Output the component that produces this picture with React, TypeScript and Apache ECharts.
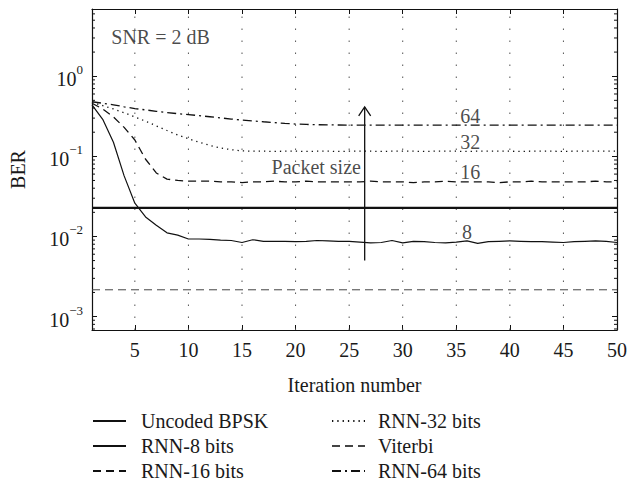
import React, { useEffect, useRef } from "react";
import * as echarts from "echarts";

const iterations = Array.from({ length: 50 }, (_, i) => i + 1);

const rnn8 = [
  0.44, 0.29, 0.15, 0.057, 0.026, 0.0175, 0.0138, 0.0111, 0.0104, 0.0093,
  0.0093, 0.0092, 0.009, 0.0089, 0.0084, 0.0091, 0.0087, 0.0087, 0.0087, 0.0086,
  0.0087, 0.0089, 0.0088, 0.0087, 0.0087, 0.0085, 0.0083, 0.0084, 0.0089, 0.0083,
  0.0087, 0.0086, 0.0084, 0.0083, 0.0085, 0.0088, 0.0082, 0.0086, 0.0087, 0.0088,
  0.0087, 0.0086, 0.0086, 0.0085, 0.0084, 0.0086, 0.0087, 0.0088, 0.0087, 0.0084,
];
const rnn16 = [
  0.46, 0.39, 0.31, 0.23, 0.16, 0.092, 0.062, 0.052, 0.05, 0.049,
  0.049, 0.049, 0.048, 0.048, 0.047, 0.048, 0.048, 0.049, 0.048, 0.048,
  0.049, 0.048, 0.048, 0.048, 0.048, 0.048, 0.049, 0.048, 0.048, 0.048,
  0.047, 0.048, 0.048, 0.049, 0.048, 0.048, 0.048, 0.048, 0.047, 0.048,
  0.048, 0.049, 0.048, 0.048, 0.048, 0.048, 0.048, 0.049, 0.048, 0.048,
];
const rnn32 = [
  0.47, 0.43, 0.39, 0.35, 0.31, 0.275, 0.24, 0.21, 0.185, 0.166,
  0.15, 0.137, 0.127, 0.121, 0.117, 0.116, 0.116, 0.115, 0.116, 0.116,
  0.115, 0.116, 0.116, 0.115, 0.116, 0.116, 0.116, 0.115, 0.116, 0.116,
  0.116, 0.115, 0.116, 0.116, 0.116, 0.115, 0.116, 0.116, 0.116, 0.116,
  0.115, 0.116, 0.116, 0.116, 0.115, 0.116, 0.116, 0.116, 0.116, 0.116,
];
const rnn64 = [
  0.48, 0.46, 0.44, 0.415, 0.395, 0.38, 0.365, 0.352, 0.341, 0.332,
  0.322, 0.312, 0.302, 0.292, 0.284, 0.277, 0.27, 0.264, 0.258, 0.253,
  0.25, 0.248, 0.247, 0.246, 0.245, 0.245, 0.245, 0.245, 0.245, 0.245,
  0.245, 0.245, 0.245, 0.245, 0.245, 0.245, 0.245, 0.245, 0.245, 0.245,
  0.245, 0.245, 0.245, 0.245, 0.245, 0.245, 0.245, 0.245, 0.245, 0.245,
];
const uncodedBer = 0.0228;
const viterbiBer = 0.00216;

const xTickValues = [5, 10, 15, 20, 25, 30, 35, 40, 45, 50];
const xGridValues = [5, 10, 15, 20, 25, 30, 35, 40, 45];

const annotationTexts = ["SNR = 2 dB", "Packet size", "64", "32", "16", "8"];
const annotationX = [2.8, 26.1, 36.3, 36.3, 36.3, 36.0];
const annotationY = [3.07, 0.0735, 0.316, 0.151, 0.0637, 0.0113];
const annotationAlign = ["left", "right", "center", "center", "center", "center"];

const arrowX = 26.45;
const arrowFrom = 0.005;
const arrowTo = 0.413;

const minorTickValues = [
  0.0007, 0.0008, 0.0009,
  0.002, 0.003, 0.004, 0.005, 0.006, 0.007, 0.008, 0.009,
  0.02, 0.03, 0.04, 0.05, 0.06, 0.07, 0.08, 0.09,
  0.2, 0.3, 0.4, 0.5, 0.6, 0.7, 0.8, 0.9,
  2, 3, 4, 5, 6,
];

const X_MIN = 1;
const X_MAX = 50;
const Y_MIN = 6.8e-4;
const Y_MAX = 6.9;

const FONT = "'Liberation Serif', 'Times New Roman', serif";
const TEXT = "#1a1a1a";
const INK = "#111";

function pairs(values: number[]) {
  return iterations.map((it, i) => [it, values[i]]);
}

export default function App() {
  const ref = useRef<HTMLDivElement>(null);
  useEffect(() => {
    if (!ref.current) return;
    const chart = echarts.init(ref.current, undefined, { renderer: "svg" });
    const lineSeries = (name: string, data: any[], style: any) => ({
      name,
      type: "line",
      data,
      symbol: "none",
      showSymbol: false,
      lineStyle: style,
      itemStyle: { color: style.color },
      z: 3,
    });
    const supLabel = (v: number) => {
      const e = Math.round(Math.log10(v));
      const s = e < 0 ? "\u2212" + Math.abs(e) : String(e);
      return `{b|10}{s|${s}}`;
    };
    const axisLineStyle = { color: INK, width: 1.2 };
    const tickStyle = { color: INK, width: 1 };
    const legendCommon = {
      orient: "vertical",
      top: 411,
      padding: 0,
      itemWidth: 33,
      itemHeight: 14,
      itemGap: 5,
      selectedMode: false,
      itemStyle: { opacity: 0 },
    };
    const option: any = {
      animation: false,
      textStyle: { fontFamily: FONT },
      grid: { left: 91, right: 11, top: 9, bottom: 162 },
      xAxis: [
        {
          type: "value",
          min: X_MIN,
          max: X_MAX,
          position: "bottom",
          name: "Iteration number",
          nameLocation: "middle",
          nameGap: 45,
          nameTextStyle: { fontSize: 20, color: TEXT, fontFamily: FONT },
          axisLine: { show: true, onZero: false, lineStyle: axisLineStyle },
          axisTick: { show: true, inside: true, length: 5, lineStyle: tickStyle, customValues: xTickValues },
          axisLabel: { fontSize: 20, color: TEXT, margin: 10, fontFamily: FONT, customValues: xTickValues },
          splitLine: { show: false },
        },
        {
          type: "value",
          min: X_MIN,
          max: X_MAX,
          position: "top",
          axisLine: { show: true, onZero: false, lineStyle: axisLineStyle },
          axisTick: { show: true, inside: true, length: 5, lineStyle: tickStyle, customValues: xTickValues },
          axisLabel: { show: false },
          splitLine: { show: false },
        },
      ],
      yAxis: [
        {
          type: "log",
          logBase: 10,
          min: Y_MIN,
          max: Y_MAX,
          position: "left",
          name: "BER",
          nameLocation: "middle",
          nameGap: 64,
          nameTextStyle: { fontSize: 20, color: TEXT, fontFamily: FONT },
          axisLine: { show: true, onZero: false, lineStyle: axisLineStyle },
          axisTick: { show: true, inside: true, length: 5, lineStyle: tickStyle },
          axisLabel: {
            showMinLabel: false,
            showMaxLabel: false,
            margin: 9,
            formatter: supLabel,
            rich: {
              b: { fontSize: 20, color: TEXT, fontFamily: FONT, lineHeight: 26, verticalAlign: "bottom" },
              s: { fontSize: 13, color: TEXT, fontFamily: FONT, lineHeight: 13, verticalAlign: "top" },
            },
          },
          splitLine: { show: false },
        },
        {
          type: "log",
          logBase: 10,
          min: Y_MIN,
          max: Y_MAX,
          position: "right",
          axisLine: { show: true, onZero: false, lineStyle: axisLineStyle },
          axisTick: { show: true, inside: true, length: 5, lineStyle: tickStyle },
          axisLabel: { show: false },
          splitLine: { show: false },
        },
      ],
      legend: [
        {
          ...legendCommon,
          data: ["Uncoded BPSK", "RNN-8 bits", "RNN-16 bits"],
          left: 92,
          textStyle: { fontSize: 20, color: TEXT, fontFamily: FONT, lineHeight: 20, padding: [0, 0, 0, 10] },
        },
        {
          ...legendCommon,
          data: ["RNN-32 bits", "Viterbi", "RNN-64 bits"],
          left: 331,
          textStyle: { fontSize: 20, color: TEXT, fontFamily: FONT, lineHeight: 20, padding: [0, 0, 0, 8] },
        },
      ],
      series: [
        {
          type: "custom",
          silent: true,
          data: xGridValues.map((v) => [v, Y_MIN]),
          renderItem: (params: any, api: any) => {
            const x = api.value(0);
            const b = api.coord([x, Y_MIN]);
            const t = api.coord([x, Y_MAX]);
            return {
              type: "line",
              shape: { x1: b[0], y1: b[1], x2: t[0], y2: t[1] },
              style: { stroke: "#555", lineWidth: 1, lineDash: [1.5, 10.5] },
            };
          },
          z: 1,
        },
        lineSeries("Uncoded BPSK", [[X_MIN, uncodedBer], [X_MAX, uncodedBer]], { color: INK, width: 2.2, type: "solid" }),
        lineSeries("RNN-8 bits", pairs(rnn8), { color: INK, width: 1.2, type: "solid" }),
        lineSeries("RNN-16 bits", pairs(rnn16), { color: INK, width: 1.3, type: [8, 5] }),
        lineSeries("RNN-32 bits", pairs(rnn32), { color: INK, width: 1.3, type: [1.3, 4] }),
        lineSeries("Viterbi", [[X_MIN, viterbiBer], [X_MAX, viterbiBer]], { color: "#444", width: 1, type: [8, 5] }),
        lineSeries("RNN-64 bits", pairs(rnn64), { color: INK, width: 1.3, type: [9, 4, 2, 4] }),
        {
          type: "custom",
          silent: true,
          data: minorTickValues.map((v) => [X_MIN, v]),
          renderItem: (params: any, api: any) => {
            const v = api.value(1);
            const l = api.coord([X_MIN, v]);
            const r = api.coord([X_MAX, v]);
            const st = { stroke: INK, lineWidth: 1 };
            return {
              type: "group",
              children: [
                { type: "line", shape: { x1: l[0], y1: l[1], x2: l[0] + 3, y2: l[1] }, style: st },
                { type: "line", shape: { x1: r[0] - 3, y1: r[1], x2: r[0], y2: r[1] }, style: st },
              ],
            };
          },
          z: 4,
        },
        {
          type: "custom",
          silent: true,
          data: [[arrowX, arrowFrom, arrowTo]],
          renderItem: (params: any, api: any) => {
            const b = api.coord([api.value(0), api.value(1)]);
            const t = api.coord([api.value(0), api.value(2)]);
            const st = { stroke: INK, lineWidth: 1.3, fill: "none" };
            return {
              type: "group",
              children: [
                { type: "line", shape: { x1: b[0], y1: b[1], x2: t[0], y2: t[1] }, style: st },
                {
                  type: "polyline",
                  shape: { points: [[t[0] - 6, t[1] + 9], [t[0], t[1]], [t[0] + 6, t[1] + 9]] },
                  style: st,
                },
              ],
            };
          },
          z: 5,
        },
        {
          type: "scatter",
          silent: true,
          symbolSize: 0,
          z: 6,
          data: annotationTexts.map((t, i) => ({
            value: [annotationX[i], annotationY[i]],
            name: t,
            label: { align: annotationAlign[i] },
          })),
          label: {
            show: true,
            position: "inside",
            formatter: (p: any) => p.name,
            fontSize: 20,
            color: TEXT,
            fontFamily: FONT,
          },
        },
      ],
    };
    chart.setOption(option);
    return () => chart.dispose();
  }, []);
  return (
    <div
      ref={ref}
      style={{ position: "fixed", left: 0, top: 0, width: 630, height: 492, background: "#fff" }}
    />
  );
}
